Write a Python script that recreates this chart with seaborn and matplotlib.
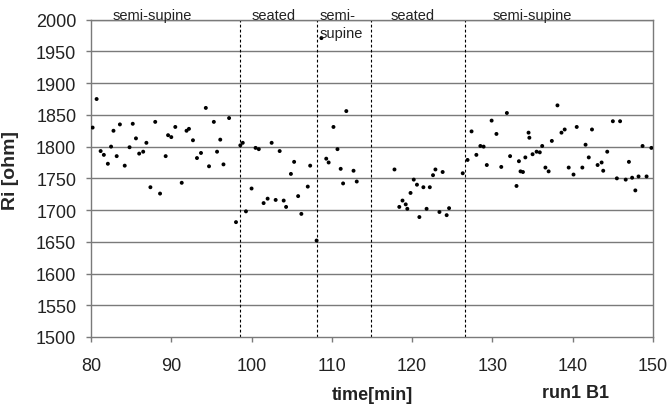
import matplotlib
matplotlib.use("Agg")
import matplotlib.pyplot as plt
import seaborn as sns
import pandas as pd

# ---- data ----
time_min = [
    80.2, 80.7, 81.2, 81.6, 82.1, 82.5, 82.8, 83.2, 83.6, 84.2, 84.8, 85.2, 85.6, 86.0,
    86.5, 86.9, 87.4, 88.0, 88.6, 89.3, 89.6, 90.0, 90.5, 91.3, 91.9, 92.2, 92.7, 93.2,
    93.7, 94.3, 94.7, 95.3, 95.7, 96.1, 96.5, 97.2,
    98.06, 98.6, 98.9, 99.3, 100.0, 100.5, 100.9, 101.5, 102.0, 102.5, 103.0, 103.5,
    104.0, 104.3, 104.9, 105.3, 105.8, 106.2, 107.0, 107.3, 108.1,
    108.7, 109.3, 109.6, 110.2, 110.7, 111.1, 111.4, 111.8, 112.7, 113.1,
    117.8, 118.4, 118.8, 119.2, 119.4, 119.8, 120.2, 120.6, 120.9, 121.4, 121.8, 122.2,
    122.6, 122.9, 123.4, 123.8, 124.3, 124.6,
    126.3, 126.9, 127.4, 128.0, 128.5, 128.9, 129.3, 129.9, 130.5, 131.1, 131.8, 132.2,
    133.0, 133.3, 133.5, 133.8, 134.1, 134.5, 134.6, 135.0, 135.5, 135.9, 136.2, 136.6,
    137.0, 137.4, 138.1, 138.6, 139.0, 139.5, 140.1, 140.5, 141.2, 141.6, 142.0, 142.4,
    143.1, 143.6, 143.8, 144.3, 145.0, 145.5, 145.9, 146.6, 147.0, 147.4, 147.8, 148.2,
    148.7, 149.2, 149.8,
]
ri_ohm = [
    1830, 1875, 1793, 1787, 1773, 1800, 1825, 1785, 1835, 1770, 1799, 1836, 1813, 1789,
    1792, 1806, 1736, 1839, 1726, 1785, 1818, 1815, 1831, 1743, 1825, 1828, 1810, 1782,
    1790, 1861, 1769, 1839, 1792, 1811, 1772, 1845,
    1681, 1802, 1806, 1698, 1734, 1798, 1796, 1711, 1718, 1806, 1716, 1793,
    1715, 1705, 1757, 1776, 1722, 1694, 1737, 1770, 1652,
    1971, 1781, 1775, 1831, 1796, 1765, 1742, 1856, 1762, 1745,
    1764, 1705, 1715, 1709, 1702, 1727, 1748, 1740, 1689, 1736, 1702, 1736,
    1755, 1764, 1697, 1760, 1692, 1703,
    1758, 1779, 1824, 1787, 1801, 1800, 1771, 1841, 1820, 1768, 1853, 1785,
    1738, 1777, 1761, 1760, 1783, 1822, 1814, 1788, 1792, 1791, 1801, 1767,
    1761, 1809, 1865, 1822, 1827, 1767, 1756, 1831, 1767, 1803, 1783, 1827,
    1771, 1775, 1762, 1792, 1840, 1750, 1840, 1748, 1776, 1751, 1731, 1753,
    1801, 1753, 1798,
]
phase_boundaries = [98.5, 108.2, 114.9, 126.6]
phase_labels = ["semi-supine", "seated", "semi-", "seated", "semi-supine"]
phase_label_x = [87.6, 102.8, 110.7, 120.1, 134.9]
second_line_label = "supine"
second_line_x = 111.2
x_ticks = [80, 90, 100, 110, 120, 130, 140, 150]
y_ticks = [1500, 1550, 1600, 1650, 1700, 1750, 1800, 1850, 1900, 1950, 2000]

df = pd.DataFrame({"time": time_min, "Ri": ri_ohm})

sns.set_style("white")
plt.rcParams["font.family"] = ["Liberation Sans", "DejaVu Sans"]

fig = plt.figure(figsize=(6.68, 4.10), dpi=100)
ax = fig.add_axes([91 / 668, 1 - 338 / 410, (653 - 91) / 668, (338 - 20.7) / 410])

grid_c = "#7a7a7a"
for yv in y_ticks[1:]:
    ax.axhline(yv, color=grid_c, lw=1.0, zorder=1)

for xb in phase_boundaries:
    ax.axvline(xb, color="black", lw=0.8, ls=(0, (2.5, 2)), zorder=2)

sns.scatterplot(data=df, x="time", y="Ri", color="black", s=8,
                edgecolor="none", ax=ax, zorder=3, legend=False)

ax.set_xlim(80, 150)
ax.set_ylim(1500, 2000)
ax.set_xticks(x_ticks)
ax.set_yticks(y_ticks)
ax.tick_params(axis="both", which="major", bottom=True, left=True,
               top=False, right=False, labelsize=13, length=3.6, width=1,
               direction="out", color=grid_c, labelcolor="#222222")
ax.tick_params(axis="x", pad=11)
ax.tick_params(axis="y", pad=7)

for side in ["left", "bottom", "right", "top"]:
    ax.spines[side].set_color(grid_c)
    ax.spines[side].set_linewidth(1.0)

ax.set_xlabel("")
ax.set_ylabel("Ri [ohm]", fontsize=14, fontweight="bold")
ax.yaxis.set_label_coords((19.5 - 91) / 562, (338 - 171) / 317.3)

for lab, xl in zip(phase_labels, phase_label_x):
    ax.text(xl, 2000.5, lab, ha="center", va="baseline", fontsize=10.5,
            color="#222222", clip_on=False, zorder=4)
ax.text(second_line_x, 1972, second_line_label, ha="center", va="baseline",
        fontsize=10.5, color="#222222", zorder=4)

fig.text(372 / 668, 1 - 396 / 410, "time[min]", ha="center", va="center",
         fontsize=13, fontweight="bold", color="#222222")
fig.text(575 / 668, 1 - 394 / 410, "run1 B1", ha="center", va="center",
         fontsize=13, fontweight="bold", color="#222222")

fig.savefig("out.png", dpi=100)
